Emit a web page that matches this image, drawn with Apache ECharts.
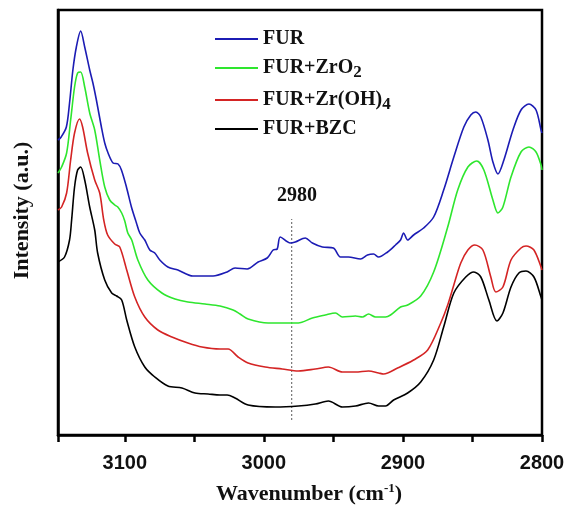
<!DOCTYPE html>
<html>
<head>
<meta charset="utf-8">
<script src="https://cdn.jsdelivr.net/npm/echarts@6/dist/echarts.min.js"></script>
<style>html,body{margin:0;padding:0;background:#fff}#c{width:568px;height:508px}</style>
</head>
<body>
<div id="c"></div>
<script>
// Wavenumber (cm-1), Intensity (a.u., arbitrary offset units)
const seriesNames = ['FUR', 'FUR+ZrO2', 'FUR+Zr(OH)4', 'FUR+BZC'];
const xTicks = [3100, 3000, 2900, 2800];
const peakMarker = 2980;

const furData = [
[3148,295],[3145.7,298],[3142.0,308],[3139.7,332],[3137.3,365],[3134.8,388],[3131.7,404],
[3128.8,388],[3125.2,365],[3122.9,352],[3120.4,335],[3116.8,308],[3114.4,292],[3112.0,282],
[3108.4,272],[3104.8,271],[3102.4,265],[3098.8,248],[3095.2,228],[3091.6,212],[3089.2,202],
[3085.6,195],[3082.0,185],[3078.4,182],[3074.8,175],[3069.0,168],[3061.8,165],[3051.0,159],
[3043.7,159],[3036.5,159],[3026.4,163],[3020.7,167],[3012.0,166],[3004.1,173],[2997.6,177],
[2993.3,185],[2990.4,186],[2988.2,198],[2981.0,192],[2977.4,193],[2970.2,197],[2965.1,192],
[2957.9,188],[2950.0,187],[2944.9,178],[2939.2,178],[2930.5,176],[2925.5,180],[2921.1,181],
[2917.5,178],[2911.0,183],[2905.3,190],[2901.7,195],[2899.5,202],[2896.6,195],[2892.3,200],
[2885.1,207],[2877.9,218],[2870.7,245],[2863.4,278],[2856.2,308],[2851.2,320],[2847.6,323],
[2844.0,318],[2838.9,295],[2835.3,273],[2831.7,261],[2827.4,275],[2820.9,305],[2815.1,325],
[2809.4,331],[2804.3,325],[2800.7,305],[2800,302]
];
const zro2Data = [
[3148,262],[3145.4,268],[3141.8,282],[3138.9,315],[3136.1,348],[3133.9,362],[3131.7,363],
[3128.8,348],[3125.2,322],[3121.6,305],[3118.0,275],[3114.4,248],[3110.8,235],[3107.2,230],
[3105.0,228],[3102.2,222],[3100.0,214],[3097.8,202],[3095.0,195],[3090.6,175],[3083.4,155],
[3073.3,142],[3063.9,136],[3054.6,133],[3042.3,131],[3031.5,129],[3022.1,125],[3017.1,121],
[3011.3,116],[2996.9,112],[2981.0,112],[2975.2,112],[2965.1,117],[2955.8,120],[2948.5,122],
[2943.5,118],[2934.1,119],[2929.1,118],[2924.7,121],[2919.7,118],[2912.5,118],[2908.9,120],
[2901.7,128],[2896.6,130],[2887.2,139],[2877.9,163],[2867.8,208],[2860.6,245],[2853.3,268],
[2846.9,274],[2841.8,265],[2835.3,235],[2831.7,222],[2828.1,228],[2822.3,258],[2815.1,283],
[2809.4,288],[2804.3,283],[2800.7,270],[2800,265]
];
const zrohData = [
[3148,225],[3145.4,228],[3141.8,242],[3138.9,275],[3136.1,302],[3132.5,316],[3130.3,308],
[3126.7,282],[3121.6,255],[3118.0,242],[3115.1,215],[3112.3,200],[3107.2,191],[3103.6,188],
[3098.6,165],[3092.8,138],[3085.6,118],[3076.2,105],[3066.1,98],[3054.6,92],[3044.5,88],
[3031.5,86],[3025.7,86],[3018.5,78],[3011.3,72],[2999.0,68],[2986.8,66],[2975.2,64],
[2963.0,66],[2953.6,68],[2943.5,63],[2934.1,63],[2924.7,64],[2917.5,62],[2913.9,61],
[2903.8,67],[2892.3,75],[2882.2,85],[2872.8,112],[2867.8,130],[2863.4,150],[2858.4,172],
[2853.3,185],[2848.3,190],[2842.5,185],[2836.8,158],[2833.2,143],[2828.1,148],[2822.3,175],
[2815.1,187],[2811.5,189],[2805.8,185],[2800,165]
];
const bzcData = [
[3148,173],[3143.3,178],[3139.7,195],[3138.2,215],[3136.1,248],[3133.9,265],[3131.7,268],
[3128.8,255],[3125.2,228],[3121.6,205],[3119.5,182],[3114.4,155],[3109.4,142],[3105.8,139],
[3102.2,135],[3098.6,115],[3092.8,88],[3085.6,68],[3078.4,58],[3069.0,49],[3058.9,47],
[3049.5,42],[3040.1,41],[3031.5,40],[3026.4,40],[3020.7,37],[3011.3,30],[2991.8,28],
[2975.2,29],[2963.0,31],[2953.6,34],[2943.5,28],[2934.1,29],[2924.7,32],[2917.5,29],
[2912.5,29],[2906.7,35],[2896.6,42],[2887.2,53],[2877.9,75],[2870.7,108],[2863.4,142],
[2854.8,158],[2849.0,163],[2844.0,158],[2838.2,135],[2832.4,114],[2828.1,122],[2822.3,148],
[2816.6,162],[2811.5,164],[2805.8,158],[2800.7,138],[2800,135]
];
const markerLine = [[peakMarker, 15], [peakMarker, 216]];

const colors = ['#1c1cb4', '#2ee62e', '#d42424', '#000000'];
const datasets = [furData, zro2Data, zrohData, bzcData];
const legendLabels = {
  'FUR': '{n|FUR}',
  'FUR+ZrO2': '{n|FUR+ZrO}{s|2}',
  'FUR+Zr(OH)4': '{n|FUR+Zr(OH)}{s|4}',
  'FUR+BZC': '{n|FUR+BZC}'
};

const chart = echarts.init(document.getElementById('c'));
const series = seriesNames.map((name, i) => ({
  name: name,
  type: 'line',
  data: datasets[i],
  symbol: 'none',
  smooth: 0.3,
  color: colors[i],
  lineStyle: { color: colors[i], width: 1.6 },
  itemStyle: { color: colors[i] },
  z: 5 - i
}));
series.push({
  name: 'marker',
  type: 'line',
  data: markerLine,
  symbol: 'none',
  silent: true,
  lineStyle: { color: '#777', width: 1.2, type: [2, 2] },
  z: 1
});

chart.setOption({
  animation: false,
  grid: { left: 58, right: 26, top: 10, bottom: 73, show: true, borderColor: '#000', borderWidth: 2.5, containLabel: false, outerBoundsMode: 'none' },
  legend: {
    data: seriesNames,
    orient: 'vertical',
    left: 210,
    top: 24,
    itemGap: 6,
    icon: 'rect',
    itemWidth: 43,
    itemHeight: 2,
    formatter: function (name) { return legendLabels[name]; },
    textStyle: {
      rich: {
        n: { fontFamily: 'Liberation Serif', fontWeight: 'bold', fontSize: 20, color: '#111', lineHeight: 22 },
        s: { fontFamily: 'Liberation Serif', fontWeight: 'bold', fontSize: 17, color: '#111', lineHeight: 16, padding: [9, 0, 0, 0] }
      }
    }
  },
  xAxis: {
    type: 'value',
    inverse: true,
    min: 2800,
    max: 3148,
    interval: 50,
    name: '{a|Wavenumber (cm}{s|-1}{a|)}',
    nameLocation: 'middle',
    nameGap: 47,
    nameTextStyle: {
      padding: [0, 0, 0, 18],
      rich: {
        a: { fontFamily: 'Liberation Serif', fontWeight: 'bold', fontSize: 22, color: '#111', lineHeight: 24 },
        s: { fontFamily: 'Liberation Serif', fontWeight: 'bold', fontSize: 13, color: '#111', lineHeight: 13, padding: [0, 0, 11, 0] }
      }
    },
    axisLine: { show: true, lineStyle: { color: '#000', width: 2.5 } },
    axisTick: { show: true, inside: false, length: 7, lineStyle: { color: '#000', width: 2.5 } },
    axisLabel: {
      margin: 18,
      fontFamily: 'Liberation Sans',
      fontWeight: 'bold',
      fontSize: 20,
      color: '#111',
      formatter: function (v) { return xTicks.indexOf(v) >= 0 ? String(v) : ''; }
    },
    splitLine: { show: false }
  },
  yAxis: {
    type: 'value',
    min: 0,
    max: 425,
    name: 'Intensity (a.u.)',
    nameLocation: 'middle',
    nameGap: 25,
    nameTextStyle: { fontFamily: 'Liberation Serif', fontWeight: 'bold', fontSize: 22, color: '#111', padding: [0, 0, 0, 24] },
    axisLine: { show: true, lineStyle: { color: '#000', width: 2.5 } },
    axisTick: { show: false },
    axisLabel: { show: false },
    splitLine: { show: false }
  },
  graphic: [{
    type: 'text',
    left: 277,
    top: 186,
    style: { text: String(peakMarker), fontFamily: 'Liberation Serif', fontWeight: 'bold', fontSize: 20, fill: '#111' }
  }],
  series: series
});
</script>
</body>
</html>
